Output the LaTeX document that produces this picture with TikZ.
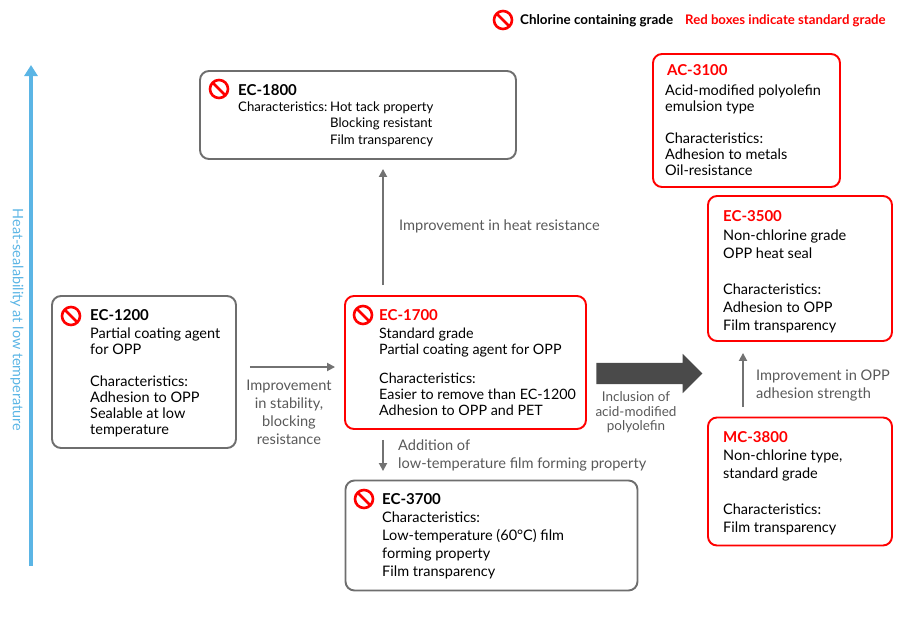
\documentclass[tikz,border=0pt]{standalone}
\usepackage{fontspec}
\setmainfont{Lato}
\usetikzlibrary{arrows.meta,shapes.arrows}
\definecolor{boxgray}{HTML}{6E6E6E}
\definecolor{labelgray}{HTML}{595959}
\definecolor{axisblue}{HTML}{5BB5E5}
\definecolor{fatgray}{HTML}{4A4A4A}
\tikzset{
  gradebox/.style={draw=boxgray,line width=1.9pt,rounded corners=9pt,fill=white,inner sep=0pt},
  redbox/.style={gradebox,draw=red},
  gradetext/.style={anchor=north west,align=left,inner sep=0pt,font=\fontsize{14.5}{#1}\selectfont,text=black},
  gradetext/.default=17,
  smalltext/.style={anchor=north west,align=left,inner sep=0pt,font=\fontsize{13.2}{16.5}\selectfont,text=black},
  gradename/.style={anchor=base west,inner sep=0pt,font=\fontsize{15}{18}\selectfont\bfseries},
  arrowlabel/.style={inner sep=0pt,align=center,text=labelgray,font=\fontsize{14.6}{#1}\selectfont},
  arrowlabel/.default=18,
  improve/.style={draw=labelgray!85,line width=1.8pt,-{Triangle[length=8pt,width=8pt]}},
  nosign/.style={circle,draw=red,line width=2.6pt,minimum size=18pt,inner sep=0pt,
    path picture={\draw[red,line width=2.6pt] (path picture bounding box.north west)--(path picture bounding box.south east);}}
}
\begin{document}
\begin{tikzpicture}[x=1pt,y=-1pt]
\useasboundingbox (0,0) rectangle (910,632);
% legend
\node[nosign] (leg) at (503,20) {};
\node[anchor=base west,inner sep=0pt,font=\fontsize{13.4}{16}\selectfont\bfseries] (legt) at (520,24.5) {Chlorine containing grade};
\node[anchor=base west,inner sep=0pt,text=red,font=\fontsize{13.2}{16}\selectfont\bfseries] (legr) at (685,24.5) {Red boxes indicate standard grade};
% axis
\coordinate (axb) at (31,566);
\coordinate (axt) at (31,65);
\draw[axisblue,line width=3.2pt,-{Triangle[length=11pt,width=13pt]}] (axb)--(axt);
\node[rotate=-90,text=axisblue,inner sep=0pt,font=\fontsize{14.4}{16}\selectfont] (axl) at (17,320) {Heat-sealability at low temperature};
% boxes
\node[gradebox,minimum width=316pt,minimum height=88pt] (ec1800) at (358,115) {};
\node[gradebox,minimum width=184pt,minimum height=152pt] (ec1200) at (144,372) {};
\node[redbox,minimum width=241pt,minimum height=133pt] (ec1700) at (465.5,362.5) {};
\node[gradebox,minimum width=292pt,minimum height=110pt] (ec3700) at (491.5,535.5) {};
\node[redbox,minimum width=187pt,minimum height=133pt] (ac3100) at (746.5,120.5) {};
\node[redbox,minimum width=184pt,minimum height=145pt] (ec3500) at (800,268.5) {};
\node[redbox,minimum width=184pt,minimum height=128pt] (mc3800) at (800,481.5) {};
% signs
\node[nosign] (s1800) at (219,89) {};
\node[nosign] (s1200) at (71,316) {};
\node[nosign] (s1700) at (363,315) {};
\node[nosign] (s3700) at (364,499) {};
% texts
\node[gradename] (n1800) at (238,95) {EC-1800};
\node[smalltext] (t1800a) at (238,101.5) {Characteristics:};
\node[smalltext] (t1800b) at (330,101.5) {Hot tack property\\Blocking resistant\\Film transparency};
\node[gradename] (n1200) at (90,320) {EC-1200};
\node[gradetext=16] (t1200) at (90,328) {Partial coating agent\\for OPP\\[16pt]Characteristics:\\Adhesion to OPP\\Sealable at low\\temperature};
\node[gradename,text=red] (n1700) at (379,320) {EC-1700};
\node[gradetext=15.6,font=\fontsize{14.3}{15.6}\selectfont] (t1700) at (379,328) {Standard grade\\Partial coating agent for OPP\\[14pt]Characteristics:\\Easier to remove than EC-1200\\Adhesion to OPP and PET};
\node[gradename] (n3700) at (382,504) {EC-3700};
\node[gradetext=18] (t3700) at (382,512) {Characteristics:\\Low-temperature (60°C) film\\forming property\\Film transparency};
\node[gradename,text=red] (n3100) at (667,75) {AC-3100};
\node[gradetext=16] (t3100) at (665,85) {Acid-modified polyolefin\\emulsion type\\[16pt]Characteristics:\\Adhesion to metals\\Oil-resistance};
\node[gradename,text=red] (n3500) at (723,221) {EC-3500};
\node[gradetext=18] (t3500) at (723,230) {Non-chlorine grade\\OPP heat seal\\[18pt]Characteristics:\\Adhesion to OPP\\Film transparency};
\node[gradename,text=red] (n3800) at (723,442) {MC-3800};
\node[gradetext=18] (t3800) at (723,450) {Non-chlorine type,\\standard grade\\[18pt]Characteristics:\\Film transparency};
% connectors
\draw[improve] ([xshift=-82.5pt,yshift=10pt]ec1700.north) -- ([xshift=25pt,yshift=-9pt]ec1800.south);
\draw[improve] ([xshift=13pt,yshift=5pt]ec1200.east) -- ([xshift=-9pt,yshift=-4.5pt]ec1700.west);
\draw[improve] ([xshift=-82.5pt,yshift=-10pt]ec1700.south) -- ([xshift=-108.5pt,yshift=8.5pt]ec3700.north);
\draw[improve] ([xshift=-57pt,yshift=9.5pt]mc3800.north) -- ([xshift=-57pt,yshift=-11pt]ec3500.south);
\node[single arrow,fill=fatgray,inner sep=0pt,minimum height=106pt,single arrow head extend=9pt,single arrow tip angle=90,text height=21pt,text width=85pt,text depth=0pt] (fat) at (644,373.5) {};
% labels
\node[arrowlabel,anchor=west] (l1) at (399,226.5) {Improvement in heat resistance};
\node[arrowlabel=18] (l2) at (289,412) {Improvement\\in stability,\\blocking\\resistance};
\node[arrowlabel=18,anchor=north west,align=left] (l3) at (398,440) {Addition of\\low-temperature film forming property};
\node[arrowlabel=14.5,font=\fontsize{13.5}{14.5}\selectfont] (l4) at (636,412.5) {Inclusion of\\acid-modified\\polyolefin};
\node[arrowlabel=18,anchor=north west,align=left] (l5) at (756,370) {Improvement in OPP\\adhesion strength};
\end{tikzpicture}
\end{document}
